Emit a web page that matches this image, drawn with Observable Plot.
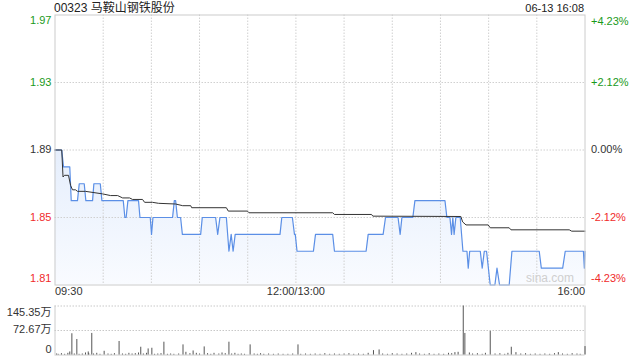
<!DOCTYPE html>
<html><head><meta charset="utf-8">
<script src="https://cdn.jsdelivr.net/npm/d3@7"></script>
<script src="https://cdn.jsdelivr.net/npm/@observablehq/plot@0.6"></script>
<style>
body{margin:0;background:#fff;font-family:"Liberation Sans",Arial,"Noto Sans CJK SC",sans-serif;}
#wrap{position:relative;width:640px;height:360px;overflow:hidden;}
#title{position:absolute;left:54px;top:0px;font-size:12px;color:#222;line-height:16px;white-space:nowrap;}
#stamp{position:absolute;right:56px;top:1px;font-size:11px;color:#222;line-height:14px;white-space:nowrap;}
#main{position:absolute;left:0;top:0;}
#vol{position:absolute;left:0;top:300px;}
</style></head>
<body><div id="wrap"><div id="main"></div><div id="vol"></div><div id="title"></div><div id="stamp"></div></div>
<script>
const FONT = '"Liberation Sans", Arial, "Noto Sans CJK SC", sans-serif';
const titleText = "00323 马鞍山钢铁股份";
const stampText = "06-13 16:08";
const prevClose = 1.89;

// minutes since 09:30 (12:00 and 13:00 share minute 150)
const priceT = [0,4.2,5.3,9.2,10.1,14.0,15.1,18.2,19.2,23.4,24.2,28.2,29.2,42.5,43.5,44.3,45.4,52.0,52.9,59.3,60.1,61.0,73.2,74.3,75.1,76.2,78.2,79.3,90.7,91.7,100.0,101.3,102.7,106.7,108.3,109.7,110.9,112.2,140.1,141.2,147.8,149.1,149.6,150.7,160.9,162.2,172.9,174.0,193.7,195.0,204.3,205.8,213.6,214.9,216.0,222.8,224.1,242.8,244.0,245.9,246.9,247.7,248.5,249.6,252.3,254.0,256.5,257.3,258.2,264.8,266.0,267.3,268.7,271.0,273.9,275.2,276.8,282.8,284.5,301.5,302.8,316.1,317.7,329.0,329.6,330];
const priceP = [1.89,1.89,1.88,1.88,1.86,1.86,1.87,1.87,1.86,1.86,1.87,1.87,1.86,1.86,1.85,1.85,1.86,1.86,1.85,1.85,1.84,1.85,1.85,1.86,1.86,1.85,1.85,1.84,1.84,1.85,1.85,1.84,1.85,1.85,1.83,1.84,1.83,1.84,1.84,1.85,1.85,1.84,1.84,1.83,1.83,1.84,1.84,1.83,1.83,1.84,1.84,1.85,1.85,1.84,1.85,1.85,1.86,1.86,1.85,1.85,1.84,1.85,1.84,1.85,1.85,1.83,1.83,1.82,1.83,1.83,1.82,1.83,1.83,1.81,1.81,1.82,1.81,1.81,1.83,1.83,1.82,1.82,1.83,1.83,1.82,1.83];

const avgT = [0,4.2,5.0,5.9,8.4,9.7,10.9,12.8,14.0,19.0,29.6,34.6,39.0,42.1,46.4,48.3,54.5,55.8,60.7,64.5,75.1,79.5,84.5,85.1,106.7,107.9,119.8,120.8,172.9,174.0,197.1,197.9,252.7,253.8,255.9,269.7,271.0,282.8,283.9,320.2,321.7,330];
const avgP = [1.89,1.89,1.874,1.875,1.875,1.869,1.8664,1.8664,1.8655,1.8655,1.864,1.863,1.863,1.8616,1.8616,1.8607,1.8607,1.859,1.859,1.8584,1.858,1.857,1.857,1.8558,1.8558,1.8538,1.8538,1.8528,1.8528,1.8518,1.8518,1.8508,1.8506,1.8474,1.8456,1.8456,1.8439,1.8439,1.8427,1.8427,1.8419,1.8419];

// volume (万股)
const volT = [1,2,4,6,8,9.2,10.5,12,13.6,15,17,19,20.7,21,22.9,24,26,28,30.6,33,35,37,39.9,42,44,46,48,50,52,53.4,55,57,58.0,60.3,62,64,66,67.8,70,72,74,77,79.7,81.5,84,86,88,90,92.9,95,97,99,102,104,106,108.3,110,112,114,116,118,121.5,124,126,128,130,133,136,139,142,145,148,151.3,153,156,159,162,165,168,171,174,177,180,183,186,189,192,195,198.3,201.8,204,207,210,213,216,219,222,224.7,227,230,233,236,239,242,245,247,249,251,254.2,255.2,258,260,263,266,268,271,274,277,280,282,284.1,287,290,293,296,299,302,305,308,311,313.4,316,319,322,325,327,330];
const volV = [3,2,4,2,5,9,63,3,46,2,3,6,9,4,64,3,5,2,11,3,2,4,40,3,2,5,3,4,6,23,3,5,18,20,2,3,4,38,2,3,2,3,30,8,4,12,5,3,24,4,2,5,3,6,4,38,3,5,2,3,2,30,3,2,4,2,3,2,3,2,2,3,30,2,3,2,3,2,4,2,3,2,3,4,2,3,2,5,13,15,3,2,4,3,2,3,5,7,3,2,4,2,3,2,5,4,7,8,145.35,64,6,3,4,2,5,70,3,4,2,5,23,7,3,4,2,3,2,3,2,4,7,3,2,4,3,2,25];

const gridPrices = [1.93,1.89,1.85];
const gridMinutes = [30,60,90,120,150,180,210,240,270,300];
const priceTicks = [1.97,1.93,1.89,1.85,1.81];
const priceTickLabels = ["1.97","1.93","1.89","1.85","1.81"];
const pctTickLabels = ["+4.23%","+2.12%","0.00%","-2.12%","-4.23%"];
const timeTicks = [0,150,330];
const timeTickLabels = ["09:30","12:00/13:00","16:00"];
const volTicks = [145.35,72.67,0];
const volTickLabels = ["145.35万","72.67万","0"];
const volGrid = [145.35,72.67];

const GREEN = "#1a9a1a", RED = "#f02b2b", DARK = "#333";
const colorOf = v => v > prevClose ? GREEN : v < prevClose ? RED : DARK;

const price = priceT.map((t,i)=>({t, p: priceP[i]}));
const avg = avgT.map((t,i)=>({t, p: avgP[i]}));
const volume = volT.map((t,i)=>({t, v: volV[i]}));
const ticks = priceTicks.map((v,i)=>({v, label: priceTickLabels[i], pct: pctTickLabels[i], color: colorOf(v)}));
const tticks = timeTicks.map((t,i)=>({t, label: timeTickLabels[i]}));
const vticks = volTicks.map((v,i)=>({v, label: volTickLabels[i]}));

document.getElementById("title").textContent = titleText;
document.getElementById("stamp").textContent = stampText;

const defsMark = () => {
  const ns = "http://www.w3.org/2000/svg";
  const defs = document.createElementNS(ns, "defs");
  defs.innerHTML = '<linearGradient id="fillGrad" x1="0" y1="0" x2="0" y2="1"><stop offset="0" stop-color="#e5eefc" stop-opacity="1"/><stop offset="1" stop-color="#f9fbff" stop-opacity="1"/></linearGradient>';
  return defs;
};

const main = Plot.plot({
  width: 640, height: 300,
  marginLeft: 54.5, marginRight: 55.5, marginTop: 14.5, marginBottom: 15.5,
  x: {domain: [0, 330], axis: null},
  y: {domain: [1.81, 1.97], axis: null},
  color: {type: "identity"},
  style: {fontFamily: FONT, fontSize: "11px", overflow: "visible", background: "transparent"},
  marks: [
    defsMark,
    Plot.areaY(price, {x: "t", y1: 1.81, y2: "p", fill: "url(#fillGrad)"}),
    Plot.ruleY(gridPrices, {stroke: "#d0d0d0", strokeDasharray: "1.5,1.5"}),
    Plot.ruleX(gridMinutes, {stroke: "#d0d0d0", strokeDasharray: "1.5,1.5"}),
    Plot.line(price, {x: "t", y: "p", stroke: "#5b8fe6", strokeWidth: 1.2}),
    Plot.line(avg, {x: "t", y: "p", stroke: "#333", strokeWidth: 1}),
    Plot.frame({stroke: "#ccc"}),
    // left price labels
    Plot.text(ticks.slice(0,1), {y: "v", text: "label", fill: "color", frameAnchor: "left", textAnchor: "end", dx: -3.5, dy: 5.5}),
    Plot.text(ticks.slice(1,4), {y: "v", text: "label", fill: "color", frameAnchor: "left", textAnchor: "end", dx: -3.5, dy: -0.5}),
    Plot.text(ticks.slice(4), {y: "v", text: "label", fill: "color", frameAnchor: "left", textAnchor: "end", dx: -3.5, dy: -7}),
    // right percent labels
    Plot.text(ticks.slice(0,1), {y: "v", text: "pct", fill: "color", frameAnchor: "right", textAnchor: "start", dx: 6, dy: 6}),
    Plot.text(ticks.slice(1,4), {y: "v", text: "pct", fill: "color", frameAnchor: "right", textAnchor: "start", dx: 6, dy: -0.5}),
    Plot.text(ticks.slice(4), {y: "v", text: "pct", fill: "color", frameAnchor: "right", textAnchor: "start", dx: 6, dy: -6.5}),
    // time labels
    Plot.text(tticks.slice(0,1), {x: "t", text: "label", frameAnchor: "bottom", textAnchor: "start", dy: 9.5, fill: DARK}),
    Plot.text(tticks.slice(1,2), {x: "t", text: "label", frameAnchor: "bottom", textAnchor: "middle", dy: 9.5, fill: DARK}),
    Plot.text(tticks.slice(2), {x: "t", text: "label", frameAnchor: "bottom", textAnchor: "end", dy: 9.5, fill: DARK}),
    // watermark
    Plot.text(["sina.com"], {frameAnchor: "bottom-right", textAnchor: "end", lineAnchor: "bottom", dx: -11, dy: -3, fill: "#cfcfcf", fontSize: 12})
  ]
});
document.getElementById("main").appendChild(main);

const vol = Plot.plot({
  width: 640, height: 60,
  marginLeft: 54.5, marginRight: 55.5, marginTop: 5.5, marginBottom: 5.5,
  x: {domain: [0, 330], axis: null},
  y: {domain: [0, 145.35], axis: null},
  style: {fontFamily: FONT, fontSize: "11px", overflow: "visible", background: "transparent"},
  marks: [
    Plot.ruleY(volGrid, {stroke: "#c8c8c8", strokeDasharray: "1.5,1.5"}),
    Plot.ruleY([0], {stroke: "#ccc"}),
    Plot.ruleX([0, 330], {stroke: "#ccc"}),
    Plot.ruleX(volume, {x: "t", y1: 0, y2: "v", stroke: "#555", strokeWidth: 1}),
    Plot.text(vticks.slice(0,1), {y: "v", text: "label", frameAnchor: "left", textAnchor: "end", dx: -3.5, dy: 6, fill: DARK}),
    Plot.text(vticks.slice(1,2), {y: "v", text: "label", frameAnchor: "left", textAnchor: "end", dx: -3.5, dy: -1, fill: DARK}),
    Plot.text(vticks.slice(2), {y: "v", text: "label", frameAnchor: "left", textAnchor: "end", dx: -3.5, dy: -6, fill: DARK})
  ]
});
document.getElementById("vol").appendChild(vol);
</script>
</body></html>
